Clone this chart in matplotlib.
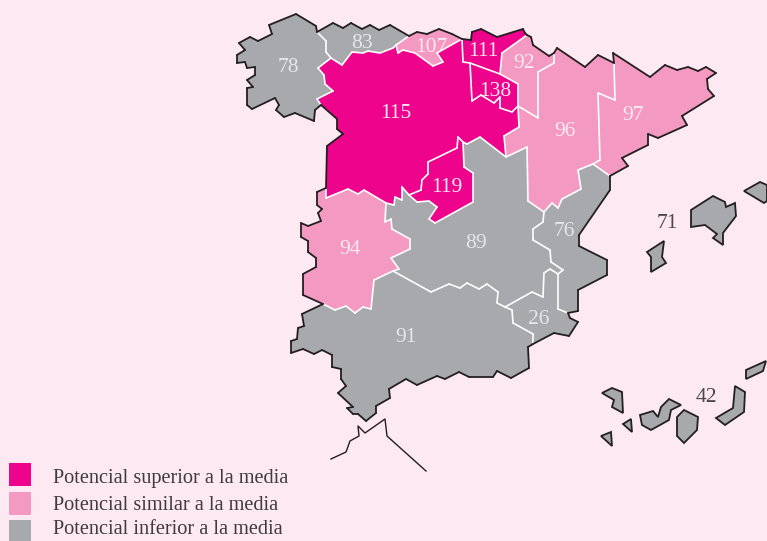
#!/usr/bin/env python3
# -*- coding: utf-8 -*-
from collections import Counter
import matplotlib
matplotlib.use('Agg')
import matplotlib.pyplot as plt
from matplotlib.collections import LineCollection

# -------------------------------- colours
bg = '#fde9f2'
hi = '#ee038c'
mid = '#f499c1'
low = '#a7a9ac'
dark = '#231f20'

# -------------------------------- outlines, in pixels of the picture
galicia = [(296,14),(316,26),(317,32),(326,41),(326,52),(331,58),(318,68),(324,75),(325,84),(333,91),(317,99),(321,105),
           (315,110),(314,121),(295,113),(284,117),(276,110),(279,105),(275,98),(252,109),(247,105),(247,88),(253,87),
           (247,80),(255,75),(255,67),(247,68),(245,62),(237,63),(237,55),(245,50),(239,43),(250,37),(258,41),(272,34),(269,25)]
asturias = [(317,32),(333,23),(343,28),(351,23),(362,29),(370,25),(379,30),(390,25),(409,36),(396,45),(393,48),(380,53),
            (368,51),(363,53),(352,52),(342,65),(331,58),(326,52),(326,41)]
cantabria = [(409,36),(417,32),(427,34),(439,29),(452,34),(462,39),(437,53),(443,62),(433,66),(415,53),(403,50),(398,53),(396,45)]
pais_vasco = [(462,39),(471,40),(472,32),(481,29),(497,37),(523,29),(525,33),(527,35),(502,53),(500,74),(470,63),(463,62)]
rioja = [(470,63),(500,74),(518,84),(518,106),(512,112),(500,108),(500,97),(494,103),(481,95),(472,101)]
navarra = [(527,35),(531,37),(533,45),(549,56),(554,53),(554,63),(538,72),(538,118),(518,106),(518,84),(500,74),(502,53)]
aragon = [(554,53),(557,48),(585,67),(598,55),(614,63),(615,100),(598,93),(600,160),(593,164),(578,170),(581,189),(562,199),
          (558,208),(552,203),(544,212),(528,201),(527,147),(506,157),(504,136),(519,127),(518,106),(538,118),(538,72),(554,63)]
cataluna = [(613,53),(650,77),(665,65),(677,70),(688,67),(698,71),(706,67),(716,73),(707,79),(708,89),(714,96),(682,116),
            (687,125),(658,138),(648,134),(648,145),(622,158),(628,166),(610,176),(593,164),(600,160),(598,93),(615,100),(614,63)]
castilla_leon = [(331,58),(342,65),(352,52),(363,53),(368,51),(380,53),(393,48),(396,45),(398,53),(403,50),(415,53),(433,66),
                 (443,62),(437,53),(462,39),(463,62),(470,63),(472,101),(481,95),(494,103),(500,97),(500,108),(512,112),(518,106),
                 (519,127),(504,136),(506,157),(480,137),(467,144),(463,142),(458,137),(457,148),(428,162),(428,174),(422,180),
                 (421,190),(409,195),(402,187),(402,200),(395,197),(394,205),(386,203),(364,190),(358,194),(348,189),(326,198),
                 (326,188),(327,146),(343,134),(337,129),(337,119),(321,105),(317,99),(333,91),(325,84),(324,75),(318,68)]
madrid = [(421,190),(422,180),(428,174),(428,162),(457,148),(458,137),(463,142),(464,167),(473,173),(473,202),(435,223),
          (429,219),(437,207),(429,201),(417,202),(409,195)]
extremadura = [(326,198),(348,189),(358,194),(364,190),(386,203),(385,222),(391,219),(392,229),(410,239),(410,249),(391,258),
               (399,269),(393,271),(374,280),(371,309),(363,307),(355,313),(346,306),(335,310),(323,304),(303,295),(303,274),
               (316,267),(316,258),(308,252),(308,241),(301,237),(301,223),(308,226),(321,221),(318,213),(322,209),(317,205),
               (317,192),(326,188)]
castilla_mancha = [(463,142),(467,144),(480,137),(506,157),(527,147),(528,201),(544,212),(543,222),(533,229),(533,240),(550,250),
                   (551,262),(563,270),(558,274),(550,269),(544,273),(543,297),(532,292),(505,307),(497,303),(498,292),(487,284),
                   (479,289),(467,283),(460,288),(449,284),(431,292),(393,271),(399,269),(391,258),(410,249),(410,239),(392,229),
                   (391,219),(385,222),(386,203),(394,205),(395,197),(402,200),(402,187),(409,195),(417,202),(429,201),(437,207),
                   (429,219),(435,223),(473,202),(473,173),(464,167)]
valencia = [(593,164),(610,176),(610,190),(579,235),(579,246),(607,260),(607,275),(578,290),(578,311),(568,313),(558,309),
            (558,274),(563,270),(551,262),(550,250),(533,240),(533,229),(543,222),(544,212),(552,203),(558,208),(562,199),
            (581,189),(578,170)]
murcia = [(558,309),(568,313),(570,318),(578,322),(569,336),(554,333),(533,344),(533,334),(513,323),(512,310),(505,307),
          (532,292),(543,297),(544,273),(550,269),(558,274)]
andalucia = [(374,280),(393,271),(431,292),(449,284),(460,288),(467,283),(479,289),(487,284),(498,292),(497,303),(505,307),
             (512,310),(513,323),(533,334),(533,344),(528,347),(529,368),(511,378),(497,371),(493,377),(469,377),(459,372),
             (445,379),(437,376),(417,385),(406,379),(389,389),(390,398),(376,406),(376,413),(366,421),(358,414),(353,414),
             (347,408),(353,407),(338,393),(346,386),(341,379),(341,369),(332,367),(332,355),(322,350),(314,354),(303,349),
             (291,353),(291,341),(297,339),(298,328),(304,326),(302,314),(323,304),(335,310),(346,306),(355,313),(363,307),(371,309)]
# islands
baleares = [[(602,393),(612,388),(622,392),(623,413),(612,407),(614,400)],
            [(623,424),(631,419),(632,432)],
            [(601,436),(611,432),(612,446)],
            [(640,415),(653,411),(658,417),(661,407),(669,399),(681,405),(671,410),(669,420),(651,430),(642,425)],
            [(684,410),(698,417),(697,430),(684,443),(677,436),(677,417)],
            [(716,418),(733,408),(735,386),(745,392),(744,412),(725,425)],
            [(746,370),(766,361),(763,371),(746,379)]]
canarias = [[(691,210),(713,196),(725,202),(726,207),(735,203),(736,216),(723,233),(723,245),(713,238),(717,234),(705,225),(691,227)],
            [(647,252),(664,241),(662,257),(666,263),(651,272),(651,257)],
            [(744,191),(760,182),(767,185),(767,201),(764,203)]]
africa = [(331,459),(346,452),(350,441),(359,436),(358,426),(365,433),(385,419),(387,436),(426,471)]

regions = [galicia,asturias,cantabria,pais_vasco,rioja,navarra,aragon,cataluna,castilla_leon,madrid,
           extremadura,castilla_mancha,valencia,murcia,andalucia]
region_col = [low,low,mid,hi,hi,mid,mid,mid,hi,hi,mid,low,low,low,low]

# -------------------------------- numbers on the map
values = [78,83,107,111,138,92,96,97,115,119,94,89,76,26,91,71,42]
val_x = [288,362,431,483,495,524,565,633,396,447,350,476,564,539,406,667,706]
val_y = [67,43,47,52,92,63,132,116,114,188,250,243,232,319,338,223,397]
grey_txt = '#e6e6e8'
val_col = [grey_txt,grey_txt,bg,bg,bg,bg,bg,bg,bg,bg,bg,grey_txt,grey_txt,grey_txt,grey_txt,'#4a4648','#4a4648']

leg_labels = ['Potencial superior a la media','Potencial similar a la media','Potencial inferior a la media']
leg_cols = [hi,mid,low]
leg_y = [463,492,520]
leg_txt_y = [478,505,530]

plt.rcParams['font.family'] = ['Liberation Serif','DejaVu Serif']

fig = plt.figure(figsize=(7.67,5.41),dpi=100,facecolor=bg)
ax = fig.add_axes([0,0,1,1])
ax.set_xlim(0,767)
ax.set_ylim(541,0)
ax.axis('off')

for poly,col in zip(regions,region_col):
    ax.fill(*zip(*poly),facecolor=col,edgecolor='none',zorder=1)

# an edge used by two regions is an inner border, used once it is coast
edges = Counter()
for poly in regions:
    for a,b in zip(poly,poly[1:]+poly[:1]):
        edges[frozenset((a,b))] += 1
inner = [tuple(e) for e,n in edges.items() if n>1]
coast = [tuple(e) for e,n in edges.items() if n==1]
ax.add_collection(LineCollection(inner,colors='white',linewidths=1.2,capstyle='round',zorder=2))
ax.add_collection(LineCollection(coast,colors=dark,linewidths=1.3,capstyle='round',zorder=3))

for poly in baleares+canarias:
    ax.fill(*zip(*poly),facecolor=low,edgecolor=dark,linewidth=1.3,zorder=2)
ax.plot(*zip(*africa),color=dark,lw=1.0,zorder=2)

for v,x,y,c in zip(values,val_x,val_y,val_col):
    ax.text(x,y,str(v),color=c,fontsize=15.5,ha='center',va='center',zorder=4)

for lab,c,y0,yt in zip(leg_labels,leg_cols,leg_y,leg_txt_y):
    ax.add_patch(plt.Rectangle((9,y0),22,22.5,facecolor=c,edgecolor='none'))
    ax.text(53,yt,lab,color='#3f3b3d',fontsize=14.6,ha='left',va='center')

plt.savefig('out.png',dpi=100,facecolor=bg)
